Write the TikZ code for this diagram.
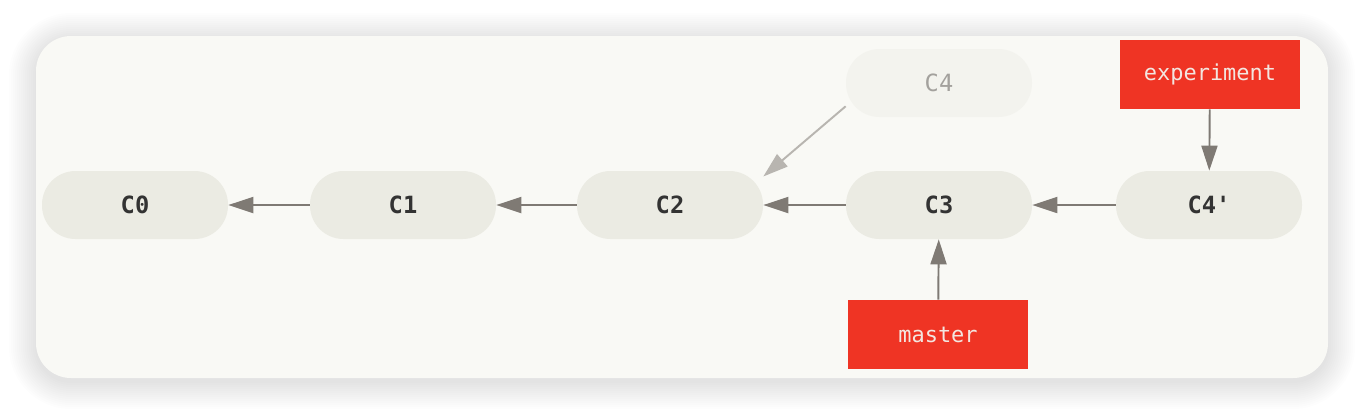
\documentclass[tikz,border=0pt]{standalone}
\usepackage{fontspec}
\setmonofont{DejaVu Sans Mono}
\usetikzlibrary{arrows.meta}
\definecolor{panel}{HTML}{F9F9F5}
\definecolor{commitfill}{HTML}{EBEBE3}
\definecolor{ghostfill}{HTML}{F3F3EE}
\definecolor{ghosttext}{HTML}{A3A19D}
\definecolor{committext}{HTML}{333333}
\definecolor{branchred}{HTML}{EF3424}
\definecolor{branchtext}{HTML}{F3E6E0}
\definecolor{arrowgray}{HTML}{7F7A74}
\definecolor{ghostarrow}{HTML}{B8B5B0}
\tikzset{
  commit/.style={fill=commitfill, text=committext, minimum width=3.72cm, minimum height=1.36cm,
    rounded corners=0.67cm, inner sep=0pt, font=\ttfamily\bfseries\fontsize{13.5}{15}\selectfont},
  ghost/.style={commit, fill=ghostfill, text=ghosttext, font=\ttfamily\fontsize{13.5}{15}\selectfont},
  branch/.style={fill=branchred, text=branchtext, minimum width=3.6cm, minimum height=1.38cm,
    inner sep=0pt, font=\ttfamily\fontsize{12.5}{15}\selectfont},
  link/.style={draw=arrowgray, line width=1.1pt, -{Triangle[length=0.5cm,width=0.32cm]}},
  ghostlink/.style={link, draw=ghostarrow}
}
\begin{document}
\begin{tikzpicture}[x=0.02cm,y=-0.02cm]
\useasboundingbox (0,0) rectangle (1364,414);
\fill[white] (0,0) rectangle (1364,414);
% shadow
\foreach \s in {1,3,...,27}{
  \fill[black, opacity=0.009, rounded corners=0.7cm+\s*0.02cm] (36-\s,36-\s+4) rectangle (1328+\s,378+\s+4);
}
\fill[panel, rounded corners=0.7cm] (36,36) rectangle (1328,378);

\node[commit] (c0) at (135,205) {C0};
\node[commit] (c1) at (403,205) {C1};
\node[commit] (c2) at (670,205) {C2};
\node[commit] (c3) at (939,205) {C3};
\node[commit] (c4p) at (1209,205) {C4'};
\node[ghost] (c4) at (939,83) {C4};
\node[branch] (exp) at (1210,74.5) {experiment};
\node[branch] (master) at (938,334.5) {master};

\draw[link] (c1) -- (c0);
\draw[link] (c2) -- (c1);
\draw[link] (c3) -- (c2);
\draw[link] (c4p) -- (c3);
\draw[ghostlink] (c4.194) -- (c2.17);
\draw[link] (exp) -- (c4p);
\draw[link] (master) -- (c3);
\end{tikzpicture}
\end{document}
